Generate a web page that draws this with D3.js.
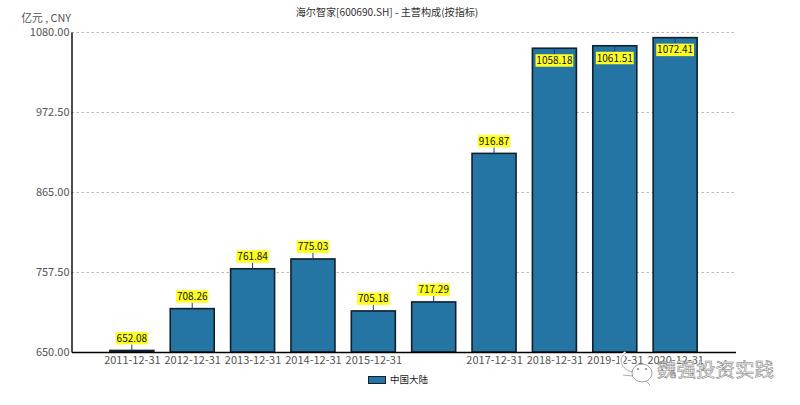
<!DOCTYPE html>
<html><head><meta charset="utf-8">
<script src="https://cdn.jsdelivr.net/npm/d3@7/dist/d3.min.js"></script>
<style>
html,body{margin:0;padding:0;background:#fff}
svg{display:block}
text{font-family:"Noto Sans CJK SC","Noto Sans",sans-serif}
</style></head><body>
<svg id="c" width="800" height="405"></svg>
<script>
const categories=["2011-12-31","2012-12-31","2013-12-31","2014-12-31","2015-12-31","2016-12-31","2017-12-31","2018-12-31","2019-12-31","2020-12-31"];
const values=[652.08,708.26,761.84,775.03,705.18,717.29,916.87,1058.18,1061.51,1072.41];
const hiddenTickLabels=["2016-12-31"];
const yTicks=[650,757.5,865,972.5,1080];
const seriesName="中国大陆";
const titleText="海尔智家[600690.SH] - 主营构成(按指标)";
const unitText="亿元 , CNY";
const watermark="魏强投资实践";

const svg=d3.select("#c");
const L=71.5,R=735.5,T=32,B=352,barW=44;
const x=d3.scalePoint().domain(["_a",...categories,"_b"]).range([L,R]);
const y=d3.scaleLinear().domain([650,1080]).range([B,T]);
const grey="#555";

svg.append("text").attr("x",387).attr("y",15.5).attr("text-anchor","middle").attr("font-size",10.1).attr("fill","#333").text(titleText);
svg.append("text").attr("x",71).attr("y",21.5).attr("text-anchor","end").attr("font-size",10.8).attr("fill",grey).text(unitText);

// grid
svg.append("g").selectAll("line").data(yTicks.slice(1)).join("line")
 .attr("x1",L).attr("x2",R).attr("y1",d=>Math.round(y(d))+.5).attr("y2",d=>Math.round(y(d))+.5)
 .attr("stroke","#bbb").attr("stroke-dasharray","2.5,2.5");

// bars
svg.append("g").selectAll("rect").data(values).join("rect")
 .attr("x",(d,i)=>x(categories[i])-barW/2).attr("width",barW)
 .attr("y",d=>y(d)).attr("height",d=>B-y(d))
 .attr("fill","#2475a4").attr("stroke","#10202c").attr("stroke-width",1.6);

// axes
const yAxis=d3.axisLeft(y).tickValues(yTicks).tickSize(0).tickPadding(2).tickFormat(d3.format(".2f"));
const gy=svg.append("g").attr("transform",`translate(${L},0)`).call(yAxis);
gy.select(".domain").attr("stroke","#000").attr("stroke-width",1.4);
gy.selectAll("text").attr("font-size",11).attr("fill",grey).style("font-family",'"Noto Sans CJK SC","Noto Sans",sans-serif');
const xAxis=d3.axisBottom(x).tickValues(categories).tickSize(0).tickPadding(4).tickFormat(d=>hiddenTickLabels.includes(d)?"":d);
const gx=svg.append("g").attr("transform",`translate(0,${B})`).call(xAxis);
gx.select(".domain").attr("stroke","#000").attr("stroke-width",1.4);
gx.selectAll("text").attr("font-size",11).attr("fill",grey).style("font-family",'"Noto Sans CJK SC","Noto Sans",sans-serif');

// value labels
const lab=svg.append("g").selectAll("g").data(values).join("g")
 .attr("transform",(d,i)=>`translate(${x(categories[i])},${y(d)})`);
const lead=6,boxH=12.5;
const inside=d=>y(d)-lead-boxH<T;
const halfW=d=>d.toFixed(2).length*2.7;
lab.append("line").attr("y1",0).attr("y2",d=>inside(d)?lead:-lead).attr("stroke","#1c3c8c").attr("stroke-width",1);
lab.append("rect").attr("x",d=>-halfW(d)).attr("width",d=>halfW(d)*2)
 .attr("y",d=>inside(d)?lead:-lead-boxH).attr("height",boxH).attr("fill","#ffff22");
lab.append("text").attr("text-anchor","middle").attr("font-size",10).attr("fill","#111")
 .attr("y",d=>inside(d)?lead+boxH/2:-lead-boxH/2).attr("dy","0.36em").text(d=>d.toFixed(2));

// legend
svg.append("rect").attr("x",368.5).attr("y",376.5).attr("width",17).attr("height",7).attr("fill","#2475a4").attr("stroke","#10202c");
svg.append("text").attr("x",390).attr("y",382.5).attr("font-size",9.5).attr("fill","#222").text(seriesName);

// watermark
const wm=svg.append("g");
wm.append("path").attr("d","M633 372C621 370 617 358 626 353").attr("fill","none").attr("stroke","#fff").attr("stroke-width",4);
wm.append("path").attr("d","M633 372C621 370 617 358 626 353").attr("fill","none").attr("stroke","#999").attr("stroke-width",.8);
wm.append("path").attr("d","M633 376L623 375").attr("stroke","#999").attr("stroke-width",.8);
wm.append("ellipse").attr("cx",642).attr("cy",373).attr("rx",10).attr("ry",9).attr("fill","#fff").attr("stroke","#888").attr("stroke-width",.8);
wm.append("path").attr("d","M646 381L650 385").attr("stroke","#888").attr("stroke-width",.8);
wm.append("circle").attr("cx",638).attr("cy",369).attr("r",.9).attr("fill","#777");
wm.append("circle").attr("cx",646).attr("cy",369).attr("r",.9).attr("fill","#777");
wm.append("text").attr("x",657).attr("y",377).attr("font-size",19.5).attr("fill","#f4f4f4").attr("stroke","#777").attr("stroke-width",.5).text(watermark);
</script></body></html>
